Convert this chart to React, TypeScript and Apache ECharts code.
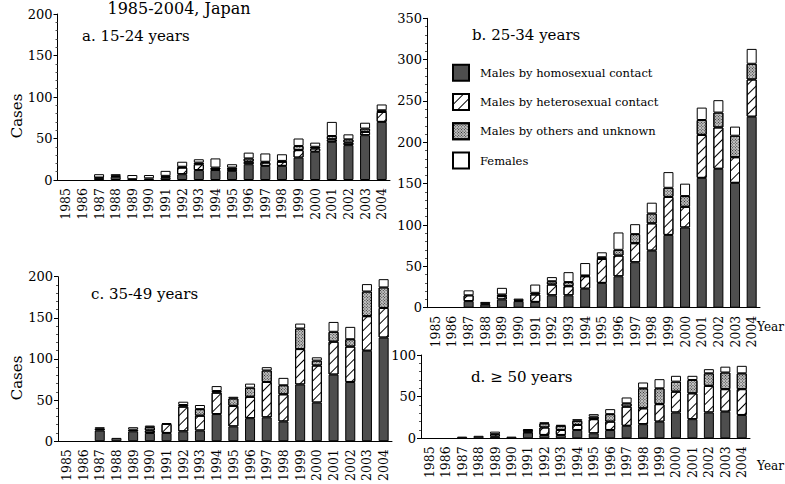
import React, { useEffect, useRef } from "react";
import * as echarts from "echarts";

// Reported cases by route of transmission, 1985-2004
const years = [
  "1985", "1986", "1987", "1988", "1989", "1990", "1991", "1992", "1993", "1994",
  "1995", "1996", "1997", "1998", "1999", "2000", "2001", "2002", "2003", "2004",
];

const seriesNames = [
  "Males by homosexual contact",
  "Males by heterosexual contact",
  "Males by others and unknown",
  "Females",
];

// a. 15-24 years
const aHomo = [0, 0, 2, 4, 1, 2, 3, 7, 12, 12, 11, 19, 17, 17, 27, 34, 46, 42, 54, 70];
const aHetero = [0, 0, 1, 0, 0, 0, 1, 8, 7, 1, 2, 3, 4, 5, 9, 4, 3, 3, 4, 12];
const aOther = [0, 0, 0, 1, 0, 0, 1, 1, 2, 2, 2, 4, 1, 1, 5, 2, 4, 4, 4, 2];
const aFemale = [0, 0, 4, 2, 5, 4, 6, 6, 4, 11, 4, 7, 10, 8, 9, 5, 17, 6, 7, 7];

// b. 25-34 years
const bHomo = [0, 0, 8, 4, 10, 8, 7, 15, 15, 23, 30, 38, 55, 69, 88, 97, 157, 168, 151, 231];
const bHetero = [0, 0, 7, 0, 4, 0, 9, 13, 11, 15, 29, 25, 23, 33, 46, 25, 52, 50, 31, 45];
const bOther = [0, 0, 0, 1, 2, 1, 2, 4, 5, 1, 2, 7, 11, 12, 11, 13, 18, 18, 26, 19];
const bFemale = [0, 0, 6, 2, 8, 2, 10, 5, 12, 15, 6, 21, 12, 13, 19, 15, 15, 15, 11, 18];

// c. 35-49 years
const cHomo = [0, 0, 13, 4, 12, 10, 10, 12, 13, 33, 18, 28, 29, 24, 69, 47, 81, 72, 110, 126];
const cHetero = [0, 0, 0, 0, 0, 3, 11, 30, 18, 26, 25, 26, 43, 33, 43, 45, 40, 43, 42, 36];
const cOther = [0, 0, 2, 0, 2, 4, 0, 2, 8, 2, 9, 11, 14, 11, 25, 6, 12, 9, 30, 25];
const cFemale = [0, 0, 2, 0, 3, 2, 1, 4, 5, 6, 2, 5, 4, 9, 6, 4, 12, 15, 9, 10];

// d. >= 50 years
const dHomo = [0, 0, 2, 3, 2, 2, 7, 4, 4, 10, 6, 10, 15, 17, 20, 31, 23, 31, 32, 28];
const dHetero = [0, 0, 0, 0, 3, 0, 1, 9, 6, 6, 17, 10, 23, 19, 21, 25, 31, 32, 27, 31];
const dOther = [0, 0, 0, 0, 0, 0, 2, 5, 5, 5, 3, 9, 4, 24, 19, 12, 16, 15, 20, 19];
const dFemale = [0, 0, 0, 0, 3, 0, 1, 1, 1, 2, 3, 6, 7, 7, 11, 7, 5, 5, 7, 9];

const panelTitles = ["a. 15-24 years", "b. 25-34 years", "c. 35-49 years", "d. \u2265 50 years"];
const yMax = [200, 350, 200, 100];

const FONT = '"DejaVu Serif", "Liberation Serif", serif';

const segmentStyles = [
  { color: "#4e4e4e", borderColor: "#000", borderWidth: 1 },
  {
    color: "#ffffff",
    borderColor: "#000",
    borderWidth: 1,
    decal: {
      symbol: "rect",
      symbolSize: 1,
      color: "#000",
      dashArrayX: [1, 0],
      dashArrayY: [1, 6],
      rotation: -Math.PI / 4,
    },
  },
  {
    color: "#c4c4c4",
    borderColor: "#000",
    borderWidth: 1,
    decal: {
      symbol: "rect",
      symbolSize: 1,
      color: "#2a2a2a",
      dashArrayX: [1, 1],
      dashArrayY: [1, 1],
      rotation: Math.PI / 4,
    },
  },
  { color: "#ffffff", borderColor: "#000", borderWidth: 1 },
];

const panels = [
  [aHomo, aHetero, aOther, aFemale],
  [bHomo, bHetero, bOther, bFemale],
  [cHomo, cHetero, cOther, cFemale],
  [dHomo, dHetero, dOther, dFemale],
];

const grids = [
  { left: 57.5, top: 14, width: 332.5, height: 166 },
  { left: 427, top: 18.3, width: 333, height: 289.4 },
  { left: 58, top: 276.7, width: 334, height: 166 },
  { left: 421, top: 355, width: 329, height: 83.3 },
];

export default function App() {
  const ref = useRef<HTMLDivElement>(null);

  useEffect(() => {
    if (!ref.current) return;
    const chart = echarts.init(ref.current, null, { renderer: "svg" });

    const xAxis = grids.map((_, i) => ({
      type: "category",
      gridIndex: i,
      data: years,
      axisLine: { lineStyle: { color: "#000", width: 1 } },
      axisTick: { alignWithLabel: true, length: 5, lineStyle: { color: "#000" } },
      axisLabel: {
        rotate: 90,
        margin: 8,
        color: "#000",
        fontFamily: FONT,
        fontSize: 12.5,
        interval: 0,
      },
    }));

    const yAxis = grids.map((_, i) => ({
      type: "value",
      gridIndex: i,
      min: 0,
      max: yMax[i],
      interval: 50,
      axisLine: { show: true, lineStyle: { color: "#000", width: 1 } },
      axisTick: { show: true, length: 4, lineStyle: { color: "#000" } },
      minorTick: { show: true, splitNumber: 5, length: 2, lineStyle: { color: "#555" } },
      splitLine: { show: false },
      axisLabel: { color: "#000", fontFamily: FONT, fontSize: 13, margin: 5 },
    }));

    const series: any[] = [];
    panels.forEach((segs, p) => {
      segs.forEach((values, s) => {
        series.push({
          type: "bar",
          name: seriesNames[s],
          xAxisIndex: p,
          yAxisIndex: p,
          stack: "panel" + p,
          barWidth: 10,
          itemStyle: segmentStyles[s],
          data: values.map((v) => (v === 0 ? "-" : v)),
        });
      });
    });

    const titlePos = [
      { x: 82, y: 36 },
      { x: 472, y: 35 },
      { x: 91, y: 294 },
      { x: 471, y: 377 },
    ];

    const graphic: any[] = [
      {
        type: "text",
        x: 179,
        y: 16,
        style: {
          text: "1985-2004, Japan",
          font: `16px ${FONT}`,
          fill: "#000",
          align: "center",
          verticalAlign: "bottom",
        },
      },
      ...panelTitles.map((t, i) => ({
        type: "text",
        x: titlePos[i].x,
        y: titlePos[i].y,
        style: { text: t, font: `15px ${FONT}`, fill: "#000", verticalAlign: "middle" },
      })),
      ...[116, 378].map((cy) => ({
        type: "text",
        x: 16.5,
        y: cy,
        rotation: Math.PI / 2,
        style: {
          text: "Cases",
          font: `15px ${FONT}`,
          fill: "#000",
          align: "center",
          verticalAlign: "middle",
        },
      })),
      ...[327, 466].map((cy) => ({
        type: "text",
        x: 757,
        y: cy,
        style: { text: "Year", font: `12px ${FONT}`, fill: "#000", verticalAlign: "middle" },
      })),
    ];

    chart.setOption({
      animation: false,
      backgroundColor: "#ffffff",
      grid: grids,
      xAxis,
      yAxis,
      series,
      legend: {
        data: seriesNames,
        orient: "vertical",
        left: 452,
        top: 63.7,
        padding: 0,
        icon: "rect",
        itemWidth: 16,
        itemHeight: 16,
        itemGap: 11.3,
        selectedMode: false,
        textStyle: { fontFamily: FONT, fontSize: 11.5, color: "#000", padding: [0, 0, 0, 6] },
      },
      graphic,
    });

    return () => chart.dispose();
  }, []);

  return (
    <div
      ref={ref}
      style={{ position: "fixed", left: 0, top: 0, width: 785, height: 484 }}
    />
  );
}
